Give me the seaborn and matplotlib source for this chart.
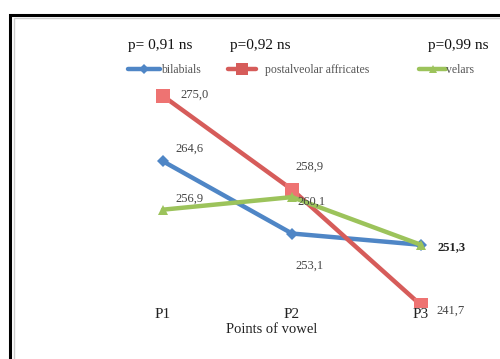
import seaborn as sns
import pandas as pd
import matplotlib.pyplot as plt
from matplotlib.lines import Line2D
from matplotlib.patches import Rectangle

# values
points = ['P1', 'P2', 'P3']
bilabials = [264.6, 253.1, 251.3]
postalveolar = [275.0, 260.1, 241.7]
velars = [256.9, 258.9, 251.3]
series_names = ['bilabials', 'postalveolar affricates', 'velars']
p_values = ['p= 0,91 ns', 'p=0,92 ns', 'p=0,99 ns']

# data labels as printed in the picture
bilabial_labels = ['264,6', '253,1', '251,3']
postalveolar_labels = ['275,0', '258,9', '241,7']
velar_labels = ['256,9', '260,1', '']

colors = {'bilabials': '#4f86c6', 'postalveolar affricates': '#d65c5a', 'velars': '#9cc35b'}
markers = {'bilabials': 'D', 'postalveolar affricates': 's', 'velars': '^'}
msizes = {'bilabials': 6, 'postalveolar affricates': 10.5, 'velars': 7}

rows = []
for name, vals in zip(series_names, [bilabials, postalveolar, velars]):
    for i, v in enumerate(vals):
        rows.append({'pos': i, 'point': points[i], 'value': v, 'series': name})
df = pd.DataFrame(rows)

sns.set_style('white')
plt.rcParams['font.family'] = ['Liberation Serif', 'DejaVu Serif']

fig = plt.figure(figsize=(5, 3.59), dpi=100)
ax = fig.add_axes([0, 52 / 359, 1, 287 / 359])

sns.lineplot(data=df, x='pos', y='value', hue='series', palette=colors,
             style='series', markers=markers, dashes=False, lw=3.2,
             markersize=8, markeredgewidth=0, legend=False, sort=False, ax=ax)
# marker sizes per series
for line, name in zip(ax.lines, series_names):
    line.set_markersize(msizes[name])
    if name == 'postalveolar affricates':
        line.set_markerfacecolor('#ee7372')

ax.set_xlim(-163 / 129, 337 / 129)
ax.set_ylim(241.4, 287.1)
for s in ax.spines.values():
    s.set_visible(False)
ax.set_yticks([])
ax.set_xticks(range(len(points)))
ax.set_xticklabels(points, fontsize=11, color='#222222')
ax.tick_params(axis='x', length=0, pad=1)
ax.set_xlabel('Points of vowel', fontsize=10.5, color='#222222', labelpad=1, x=272 / 500)
ax.set_ylabel('')

# data labels (offsets in pixels)
offs = {
    'bilabials': [(12, 13, 'left'), (17, -32, 'center'), (16, -2, 'left')],
    'postalveolar affricates': [(17, 1, 'left'), (17, 23, 'center'), (15, -6, 'left')],
    'velars': [(12, 11, 'left'), (5, -5, 'left'), (0, 0, 'left')],
}
for name, vals, labs in zip(series_names, [bilabials, postalveolar, velars],
                            [bilabial_labels, postalveolar_labels, velar_labels]):
    for i, (v, lab) in enumerate(zip(vals, labs)):
        if not lab:
            continue
        dx, dy, ha = offs[name][i]
        bold = (lab == '251,3')
        ax.annotate(lab, (i, v), xytext=(dx, dy), textcoords='offset pixels',
                    ha=ha, va='center', fontsize=9,
                    color='#222222' if bold else '#444444',
                    fontweight='bold' if bold else 'normal')

# p-values on top
fig.text(128 / 500, 1 - 45 / 359, p_values[0], fontsize=11, va='center', ha='left', color='#111111')
fig.text(230 / 500, 1 - 45 / 359, p_values[1], fontsize=11, va='center', ha='left', color='#111111')
fig.text(489 / 500, 1 - 45 / 359, p_values[2], fontsize=11, va='center', ha='right', color='#111111')

# legend drawn by hand
leg_y = 1 - 69 / 359
leg = [('bilabials', 128, 160, 161), ('postalveolar affricates', 228, 256, 265), ('velars', 419, 446, 446)]
for name, x0, x1, tx in leg:
    fig.add_artist(Line2D([x0 / 500, x1 / 500], [leg_y, leg_y], color=colors[name], lw=3.2))
    fig.add_artist(Line2D([(x0 + x1) / 1000], [leg_y], color=colors[name], marker=markers[name],
                          markersize=msizes[name] * 0.8, markeredgewidth=0))
    fig.text(tx / 500, leg_y - 0.004, name, fontsize=8.5, va='center', ha='left', color='#555555')

# frame
top_black = 1 - 14.5 / 359
top_gray = 1 - 18 / 359
fig.add_artist(Rectangle((9.5 / 500, -0.2), 1.2, top_black + 0.2, transform=fig.transFigure,
                         fill=False, edgecolor='black', lw=2.2))
fig.add_artist(Rectangle((13.5 / 500, -0.2), 1.2, top_gray + 0.2, transform=fig.transFigure,
                         fill=False, edgecolor='#cccccc', lw=1))

fig.savefig('out.png', dpi=100)
